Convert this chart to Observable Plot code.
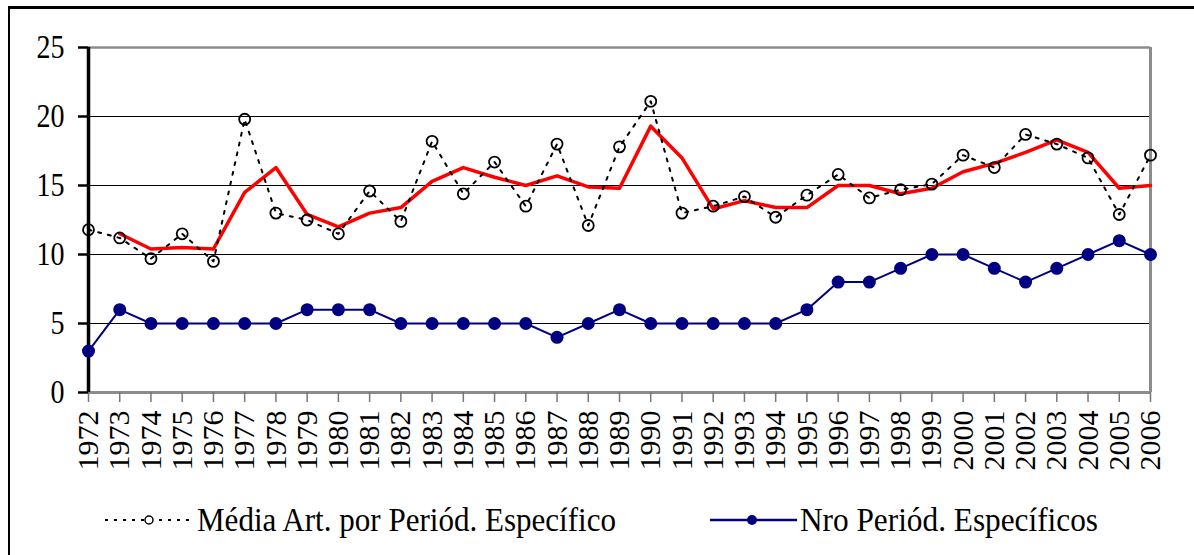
<!DOCTYPE html>
<html>
<head>
<meta charset="utf-8">
<script src="https://cdn.jsdelivr.net/npm/d3@7"></script>
<script src="https://cdn.jsdelivr.net/npm/@observablehq/plot@0.6"></script>
<style>
  html, body { margin: 0; padding: 0; background: #fff; }
  body { width: 1194px; height: 555px; position: relative; overflow: hidden; font-family: "Liberation Serif", "Times New Roman", Times, Tinos, "Nimbus Roman", "Nimbus Roman No9 L", FreeSerif, "Noto Serif", "DejaVu Serif", serif; }
  #frame { position: absolute; left: 8px; top: 6px; width: 1300px; height: 700px; border-left: 2px solid #000; border-top: 3px solid #000; }
  #chart { position: absolute; left: 0; top: 0; }
  #legend { position: absolute; left: 0; top: 490px; width: 1194px; height: 65px; }
  svg text { font-family: "Liberation Serif", "Times New Roman", Times, Tinos, "Nimbus Roman", "Nimbus Roman No9 L", FreeSerif, "Noto Serif", "DejaVu Serif", serif !important; }
</style>
</head>
<body>
<div id="frame"></div>
<div id="chart"></div>
<div id="legend"></div>
<script>
const years = [1972,1973,1974,1975,1976,1977,1978,1979,1980,1981,1982,1983,1984,1985,1986,1987,1988,1989,1990,1991,1992,1993,1994,1995,1996,1997,1998,1999,2000,2001,2002,2003,2004,2005,2006];
const media = [11.8,11.2,9.7,11.5,9.5,19.8,13.0,12.5,11.5,14.6,12.4,18.2,14.4,16.7,13.5,18.0,12.1,17.8,21.1,13.0,13.5,14.2,12.7,14.3,15.8,14.1,14.7,15.1,17.2,16.3,18.7,18.0,17.0,12.9,17.2];
const movel = [null,11.5,10.4,10.5,10.4,14.5,16.3,12.9,12.0,13.0,13.4,15.3,16.3,15.6,15.0,15.7,14.9,14.8,19.3,17.0,13.3,13.9,13.4,13.4,15.0,15.0,14.4,14.8,16.0,16.6,17.4,18.3,17.4,14.8,15.0];
const nro = [3,6,5,5,5,5,5,6,6,6,5,5,5,5,5,4,5,6,5,5,5,5,5,6,8,8,9,10,10,9,8,9,10,11,10];
const yTicks = [0,5,10,15,20,25];
const seriesNames = ["Média Art. por Periód. Específico", "Nro Periód. Específicos"];

const FONT = "'Liberation Serif', 'Times New Roman', Times, Tinos, 'Nimbus Roman', FreeSerif, 'Noto Serif', 'DejaVu Serif', serif";
const data = years.map((y, i) => ({year: y, media: media[i], movel: movel[i], nro: nro[i]}));

const plot = Plot.plot({
  width: 1194,
  height: 490,
  marginLeft: 88,
  marginRight: 44,
  marginTop: 47,
  marginBottom: 98,
  style: {fontFamily: FONT, fontSize: "30px", background: "transparent", color: "#000"},
  x: {type: "linear", domain: [1972, 2006]},
  y: {domain: [0, 25]},
  marks: [
    Plot.ruleY(yTicks.filter(d => d > 0 && d < 25), {stroke: "#000", strokeWidth: 1}),
    Plot.ruleY([25], {stroke: "#8c8c8c", strokeWidth: 2.5}),
    Plot.ruleX([2006], {stroke: "#8c8c8c", strokeWidth: 3}),
    Plot.ruleY([0], {stroke: "#8c8c8c", strokeWidth: 3}),
    Plot.axisX({ticks: years, tickFormat: d => String(d), tickRotate: -90, tickSize: 10, tickPadding: 8, stroke: "#777", strokeWidth: 1.5, fill: "#000", fontSize: 30, label: null}),
    Plot.axisY({ticks: yTicks, tickSize: 10, tickPadding: 14, stroke: "#000", strokeWidth: 2.5, fill: "#000", fontSize: 33, label: null}),
    Plot.ruleX([1972], {stroke: "#000", strokeWidth: 3.5}),
    Plot.line(data, {x: "year", y: "movel", stroke: "#ff0000", strokeWidth: 3.5, defined: d => d.movel != null}),
    Plot.line(data, {x: "year", y: "media", stroke: "#000", strokeWidth: 2, strokeDasharray: "3,7"}),
    Plot.dot(data, {x: "year", y: "media", r: 5.5, stroke: "#000", strokeWidth: 1.8, fill: "none"}),
    Plot.line(data, {x: "year", y: "nro", stroke: "#000080", strokeWidth: 2}),
    Plot.dot(data, {x: "year", y: "nro", r: 6.5, fill: "#000080", stroke: "none"})
  ]
});
document.getElementById("chart").appendChild(plot);

// Compress y tick labels horizontally like the reference
d3.select(plot).selectAll("g[aria-label='y-axis tick label'] text").each(function() {
  const t = this.textContent;
  this.setAttribute("textLength", String(t.length * 14));
  this.setAttribute("lengthAdjust", "spacingAndGlyphs");
});

// Legend
const leg = d3.select("#legend").append("svg").attr("width", 1194).attr("height", 65);
const ly = 30;
leg.append("line").attr("x1", 105).attr("x2", 192).attr("y1", ly).attr("y2", ly)
  .attr("stroke", "#000").attr("stroke-width", 2).attr("stroke-dasharray", "3,6");
leg.append("circle").attr("cx", 149).attr("cy", ly).attr("r", 4).attr("fill", "#fff").attr("stroke", "#000").attr("stroke-width", 1.5);
leg.append("text").attr("x", 197).attr("y", ly + 11).attr("font-size", 33)
  .attr("font-family", FONT).attr("textLength", 419).attr("lengthAdjust", "spacingAndGlyphs")
  .text(seriesNames[0]);
leg.append("line").attr("x1", 710).attr("x2", 797).attr("y1", ly).attr("y2", ly)
  .attr("stroke", "#000080").attr("stroke-width", 2.5);
leg.append("circle").attr("cx", 752).attr("cy", ly).attr("r", 5).attr("fill", "#000080");
leg.append("text").attr("x", 800).attr("y", ly + 11).attr("font-size", 33)
  .attr("font-family", FONT).attr("textLength", 298).attr("lengthAdjust", "spacingAndGlyphs")
  .text(seriesNames[1]);
</script>
</body>
</html>
